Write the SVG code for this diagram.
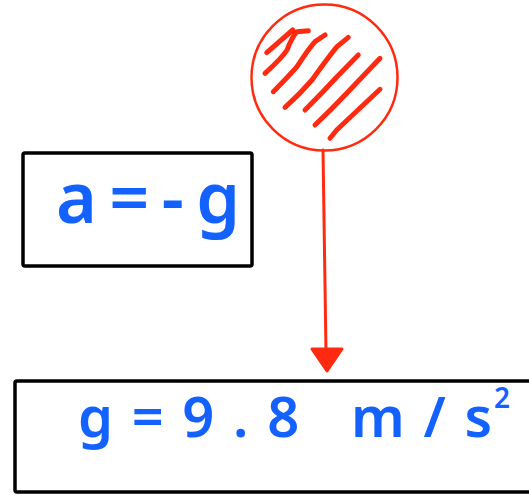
<svg xmlns="http://www.w3.org/2000/svg" width="529" height="495" viewBox="0 0 529 495">
<style>
.box{fill:#fff;stroke:#000;stroke-width:3.5;stroke-linejoin:round}
.hand{fill:#1361ff;font-family:"Noto Sans","Liberation Sans",sans-serif;font-weight:600}
.red{fill:none;stroke:#ff2a0f;stroke-linecap:round;stroke-linejoin:round}
.head{fill:#ff2a0f;stroke:#ff2a0f;stroke-width:3;stroke-linejoin:round}
</style>
<rect width="529" height="495" fill="#fff"/>
<g id="connectors">
<path class="red" d="M323,150 L326,352" stroke-width="3"/>
<polygon class="head" points="312,349 342,349 327,371"/>
</g>
<g id="ball">
<circle class="red" cx="324.5" cy="77.5" r="73" stroke-width="2.5"/>
<g class="red" stroke-width="5">
<path d="M266.7,52.7 L292.7,30 L294,33.3"/>
<path d="M265,73.3 Q282,58 287,50 Q293,35 297,31.7 L308.3,30.7"/>
<path d="M273.3,91.7 Q288,77 297,66.7 Q309,48 315,41.7 L325,35"/>
<path d="M285,107.3 Q300,94 312,80 Q330,55 337,46.7 L348.3,37.3"/>
<path d="M305,110 Q322,93 337,76.7 L358.3,55"/>
<path d="M315,125 Q332,109 346.7,93.3 L380,58.3"/>
<path d="M330,138.3 L336.7,130 Q358,110 380,89.3"/>
</g>
</g>
<g id="accel">
<rect class="box" x="23" y="153" width="229" height="113" rx="2"/>
<text class="hand" x="56" y="223" font-size="70" textLength="184" lengthAdjust="spacing">a=-g</text>
</g>
<g id="gravity">
<rect class="box" x="15" y="381" width="530" height="111" rx="2"/>
<text class="hand" x="78" y="437" font-size="56" textLength="414" lengthAdjust="spacing">g=9.8 m/s</text>
<text class="hand" x="494" y="408" font-size="28">2</text>
</g>
</svg>
